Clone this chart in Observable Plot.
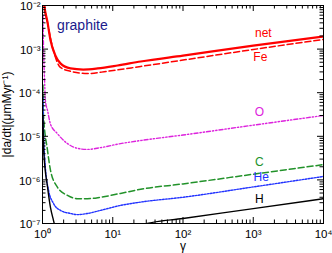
<!DOCTYPE html>
<html><head><meta charset="utf-8">
<script src="https://cdn.jsdelivr.net/npm/d3@7"></script>
<script src="https://cdn.jsdelivr.net/npm/@observablehq/plot@0.6"></script>
<style>body{margin:0;background:#fff}#chart{position:relative;width:332px;height:253px}#chart svg{position:absolute;left:0;top:0}</style>
</head><body><div id="chart"></div>
<script>
// ---- data ----
const netG = [1.03, 1.05, 1.18, 1.3, 1.53, 1.8, 2.5, 3.8, 6.1, 11.7, 25, 100, 1000, 10000];
const netV = [3e-2, 1.2e-2, 4.1e-3, 1.6e-3, 7.1e-4, 4.7e-4, 3.6e-4, 3.4e-4, 3.6e-4, 4.2e-4, 5.2e-4, 7.1e-4, 1.2e-3, 1.95e-3];

const feG = [1.03, 1.05, 1.18, 1.43, 1.8, 2.5, 4.4, 8.4, 25, 100, 1000, 10000];
const feV = [3e-2, 1.2e-2, 4.0e-3, 9.3e-4, 3.8e-4, 3.1e-4, 2.75e-4, 3.1e-4, 4.0e-4, 5.6e-4, 9.8e-4, 1.66e-3];

const oG = [1.015, 1.033, 1.07, 1.10, 1.18, 1.30, 1.63, 2.27, 3.15, 4.37, 6.7, 12.9, 25, 100, 1000, 10000];
const oV = [6e-3, 1.2e-3, 1.9e-4, 6.6e-5, 3.9e-5, 1.9e-5, 1.15e-5, 6.8e-6, 5.3e-6, 5.0e-6, 5.5e-6, 6.8e-6, 8.0e-6, 1.07e-5, 1.8e-5, 3.0e-5];

const cG = [1.015, 1.03, 1.18, 1.30, 1.63, 2.27, 3.15, 4.37, 6.7, 12.9, 25, 100, 1000, 10000];
const cV = [1.5e-4, 3.3e-5, 4.7e-6, 1.66e-6, 6.8e-7, 4.4e-7, 3.7e-7, 3.7e-7, 4.0e-7, 4.9e-7, 6.1e-7, 8.1e-7, 1.35e-6, 2.24e-6];

const heG = [1.015, 1.03, 1.10, 1.22, 1.43, 1.8, 2.5, 3.15, 4.37, 6.7, 12.9, 25, 100, 1000, 10000];
const heV = [8e-5, 1.6e-5, 1.9e-6, 5.8e-7, 2.9e-7, 2.0e-7, 1.7e-7, 1.6e-7, 1.7e-7, 2.0e-7, 2.6e-7, 3.1e-7, 4.0e-7, 6.9e-7, 1.2e-6];

const hG = [1.015, 1.04, 1.18, 1.30, 1.43, 1.6, 2.5, 5, 12, 31, 100, 1000, 10000];
const hV = [3e-5, 4.7e-6, 6.8e-7, 2.3e-7, 1.2e-7, 6e-8, 2.5e-8, 2e-8, 3.5e-8, 1.0e-7, 1.3e-7, 2.2e-7, 3.7e-7];

const seriesNames = ["net", "Fe", "O", "C", "He", "H"];
const labelG = [1390, 1260, 1220, 1220, 1300, 1220];
const labelV = [2.28e-3, 6.4e-4, 3.5e-5, 2.6e-6, 1.13e-6, 3.7e-7];

const xTickValues = [1, 10, 100, 1000, 10000];
const yTickValues = [1e-7, 1e-6, 1e-5, 1e-4, 1e-3, 1e-2];
const title = "graphite";
const titleG = [3.7];
const titleV = [3.5e-3];
const xLabel = "γ";
const yLabel = "|da/dt|(μmMyr⁻¹)";

// ---- styles ----
const styles = {
  net: {stroke: "#ff0000", strokeWidth: 2.2, strokeDasharray: null},
  Fe:  {stroke: "#ff0000", strokeWidth: 1.5, strokeDasharray: "6,3"},
  O:   {stroke: "#dd22dd", strokeWidth: 1.4, strokeDasharray: "4,2,1.3,2,1.3,2"},
  C:   {stroke: "#22922a", strokeWidth: 1.5, strokeDasharray: "6,3"},
  He:  {stroke: "#2233ff", strokeWidth: 1.4, strokeDasharray: "1.6,1.4"},
  H:   {stroke: "#000000", strokeWidth: 1.4, strokeDasharray: null}
};
const seriesData = {
  net: [netG, netV], Fe: [feG, feV], O: [oG, oV], C: [cG, cV], He: [heG, heV], H: [hG, hV]
};
const rowsOf = name => seriesData[name][0].map((g, i) => ({g, v: seriesData[name][1][i]}));
const labels = seriesNames.map((name, i) => ({name, g: labelG[i], v: labelV[i]}));

const supMap = {"-": "⁻", "0": "⁰", "1": "¹", "2": "²", "3": "³", "4": "⁴", "5": "⁵", "6": "⁶", "7": "⁷", "8": "⁸", "9": "⁹"};
const fmt = d => "10" + String(Math.round(Math.log10(d))).split("").map(c => supMap[c]).join("");

// minor tick positions (2..9 within each decade)
const minorOf = (lo, hi) => {
  const out = [];
  for (let e = lo; e < hi; e++) for (let k = 2; k <= 9; k++) out.push(k * Math.pow(10, e));
  return out;
};
const xMinor = minorOf(0, 4);
const yMinor = minorOf(-7, -2);

const W = 332, HT = 253, mL = 42, mR = 9, mT = 5, mB = 30;
const innerW = W - mL - mR, innerH = HT - mT - mB;
const yFac = len => Math.pow(10, 5 * len / innerH);
const xFac = len => Math.pow(10, 4 * len / innerW);
const layout = {width: W, height: HT, marginLeft: mL, marginRight: mR, marginTop: mT, marginBottom: mB};

const chart = Plot.plot({
  ...layout,
  style: {fontFamily: "'Liberation Sans', Arial, sans-serif", background: "#fff", color: "#000"},
  x: {type: "log", domain: [1, 10000]},
  y: {type: "log", domain: [1e-7, 1e-2]},
  marks: [
    ...seriesNames.map(name => Plot.line(rowsOf(name), {
      x: "g", y: "v", curve: "monotone-x", clip: true, ...styles[name]
    })),
    Plot.axisX({anchor: "bottom", ticks: xTickValues, tickSize: 0, tickPadding: 6, tickFormat: fmt, fontSize: 11.5, label: null}),
    Plot.axisY({anchor: "left", ticks: yTickValues, tickSize: 0, tickPadding: 2, tickFormat: fmt, fontSize: 11.5, dy: 1, label: null}),
    Plot.frame({stroke: "#000", strokeWidth: 1}),
    Plot.text(labels, {x: "g", y: "v", text: "name", fill: d => styles[d.name].stroke, fontSize: 12}),
    Plot.text([title], {x: titleG, y: titleV, text: d => d, fill: "#1a1a8c", fontSize: 14}),
    Plot.text([xLabel], {x: [100], y: [1e-7], text: d => d, dy: 23, fontSize: 12}),
    Plot.text([yLabel], {x: [1], y: [Math.sqrt(1e-7 * 1e-2)], text: d => d, dx: -35, rotate: -90, fontSize: 12})
  ]
});

// inward ticks on all four sides (transparent overlay with the same scales)
const ticks = Plot.plot({
  ...layout,
  style: {background: "transparent"},
  x: {type: "log", domain: [1, 10000], axis: null},
  y: {type: "log", domain: [1e-7, 1e-2], axis: null},
  marks: [
    Plot.ruleX(xTickValues, {x: d => d, y1: 1e-7, y2: 1e-7 * yFac(6), stroke: "black"}),
    Plot.ruleX(xTickValues, {x: d => d, y1: 1e-2, y2: 1e-2 / yFac(6), stroke: "black"}),
    Plot.ruleX(xMinor, {x: d => d, y1: 1e-7, y2: 1e-7 * yFac(3.5), stroke: "black"}),
    Plot.ruleX(xMinor, {x: d => d, y1: 1e-2, y2: 1e-2 / yFac(3.5), stroke: "black"}),
    Plot.ruleY(yTickValues, {y: d => d, x1: 1, x2: xFac(6), stroke: "black"}),
    Plot.ruleY(yTickValues, {y: d => d, x1: 10000, x2: 10000 / xFac(6), stroke: "black"}),
    Plot.ruleY(yMinor, {y: d => d, x1: 1, x2: xFac(3.5), stroke: "black"}),
    Plot.ruleY(yMinor, {y: d => d, x1: 10000, x2: 10000 / xFac(3.5), stroke: "black"})
  ]
});
const box = document.getElementById("chart");
box.appendChild(chart);
box.appendChild(ticks);
</script>
</body></html>
